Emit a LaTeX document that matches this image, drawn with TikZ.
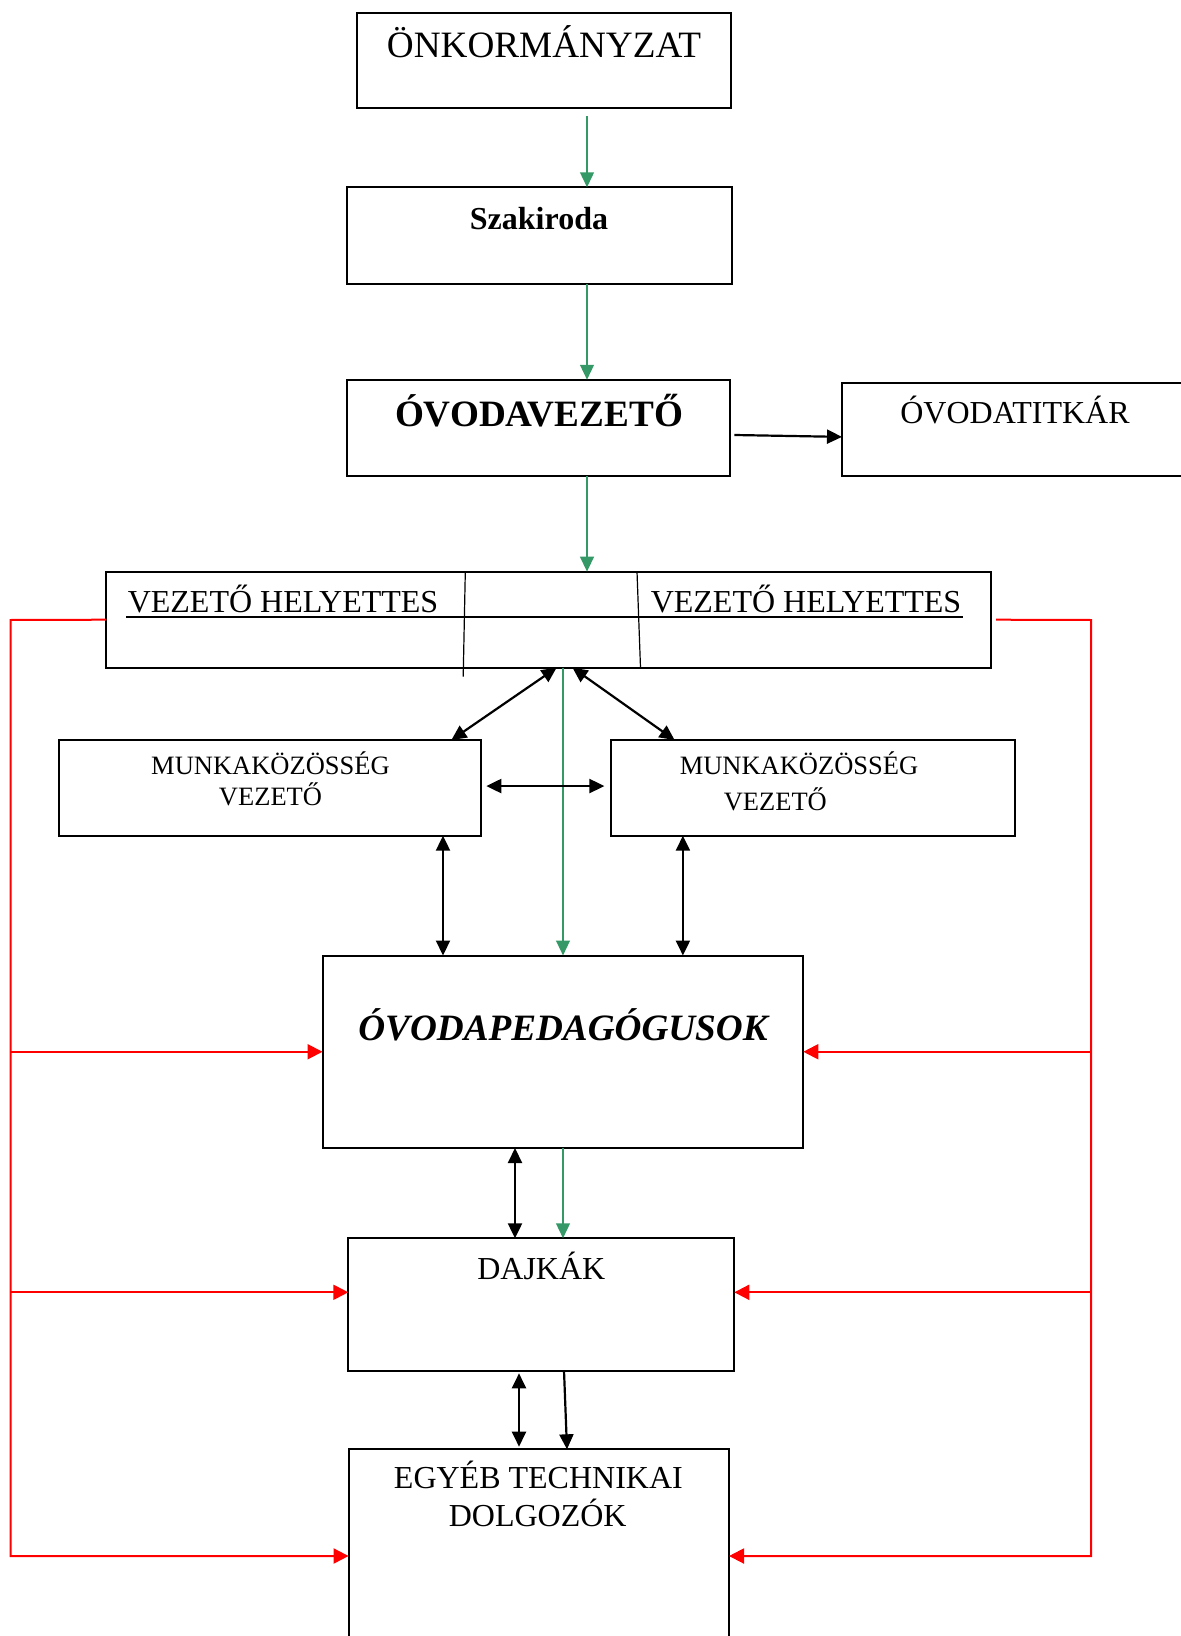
\documentclass[tikz,border=0pt]{standalone}
\usepackage{fontspec}
\setmainfont{Liberation Serif}
\usetikzlibrary{arrows.meta,calc}
\definecolor{grn}{RGB}{52,153,102}
\tikzset{
  box/.style={draw=black,line width=1pt,rectangle,inner sep=0pt,outer sep=0pt},
  txt/.style={anchor=base,inner sep=0pt,outer sep=0pt},
  big/.style={font=\fontsize{18.6}{22}\selectfont},
  mid/.style={font=\fontsize{16}{19}\selectfont},
  small/.style={font=\fontsize{13.25}{16}\selectfont},
  garrow/.style={draw=grn,line width=1.2pt,-{Triangle[length=7.5pt,width=6.8pt]}},
  barrow/.style={draw=black,line width=1.1pt,-{Triangle[length=7.5pt,width=7pt]}},
  bdouble/.style={draw=black,line width=1.1pt,{Triangle[length=7.5pt,width=7pt]}-{Triangle[length=7.5pt,width=7pt]}},
  rarrow/.style={draw=red,line width=1pt,-{Triangle[length=7.5pt,width=7.5pt]}},
  thin/.style={draw=black,line width=0.6pt}
}
\begin{document}
\begin{tikzpicture}[x=0.5pt,y=-0.5pt]
\useasboundingbox (0,0) rectangle (1181,1636);
\clip (0,0) rectangle (1181,1636);
% boxes
\node[box,minimum width=187pt,minimum height=47.8pt] (onk) at (544,60.5) {};
\node[box,minimum width=192.35pt,minimum height=48.35pt] (szak) at (539.3,235.7) {};
\node[box,minimum width=191.5pt,minimum height=48pt] (vez) at (538.9,427.8) {};
\node[box,minimum width=179pt,minimum height=46.35pt] (titk) at (1021,429.7) {};
\node[box,minimum width=442.2pt,minimum height=48pt] (vh) at (548.6,619.7) {};
\node[box,minimum width=211.1pt,minimum height=47.85pt] (mka) at (270.2,787.85) {};
\node[box,minimum width=201.85pt,minimum height=47.85pt] (mkb) at (812.65,787.85) {};
\node[box,minimum width=240.4pt,minimum height=96.25pt] (ped) at (562.9,1051.75) {};
\node[box,minimum width=193pt,minimum height=66.2pt] (dajk) at (541.3,1304.5) {};
\node[box,minimum width=190.2pt,minimum height=106.7pt] (egy) at (538.8,1556) {};
% texts
\node[txt,big] (tonk) at (544,57.3) {ÖNKORMÁNYZAT};
\node[txt,font=\fontsize{16}{19}\selectfont\bfseries] (tszak) at (539,230) {Szakiroda};
\node[txt,font=\fontsize{18.6}{22}\selectfont\bfseries] (tvez) at (539,427) {ÓVODAVEZETŐ};
\node[txt,mid] (ttitk) at (1015,423) {ÓVODATITKÁR};
\node[txt,mid] (tvha) at (283,612.3) {VEZETŐ HELYETTES};
\node[txt,mid] (tvhb) at (806,612.3) {VEZETŐ HELYETTES};
\node[txt,small] (tmka1) at (270.5,774.3) {MUNKAKÖZÖSSÉG};
\node[txt,small] (tmka2) at (270.5,805.3) {VEZETŐ};
\node[txt,small] (tmkb1) at (799,774.3) {MUNKAKÖZÖSSÉG};
\node[txt,small] (tmkb2) at (775.3,810) {VEZETŐ};
\node[txt,font=\fontsize{18.6}{22}\selectfont\bfseries\itshape] (tped) at (563,1040) {ÓVODAPEDAGÓGUSOK};
\node[txt,mid] (tdajk) at (541.3,1279.3) {DAJKÁK};
\node[txt,mid] (tegy1) at (538.4,1488.3) {EGYÉB TECHNIKAI};
\node[txt,mid] (tegy2) at (537.7,1526.7) {DOLGOZÓK};
% inner lines of the deputy box
\draw[thin,line width=0.8pt] (126.4,616.7) -- (963.2,616.7);
\draw[thin] (465.3,571.7) -- (463.2,676.7);
\draw[thin] (637,571.7) -- (640.5,667.7);
% column coordinates
\coordinate (ga) at (587,0);
\coordinate (gb) at (563,0);
\coordinate (ca) at (556.6,0);
\coordinate (cb) at (451.4,0);
\coordinate (cc) at (572.5,0);
\coordinate (cd) at (674.6,0);
\coordinate (ce) at (443,0);
\coordinate (cf) at (682.9,0);
\coordinate (cg) at (515,0);
\coordinate (ch) at (519,0);
\coordinate (ci) at (564,0);
\coordinate (cj) at (567,0);
\coordinate (rl) at (10.5,620);
\coordinate (rr) at (1091,620);
% green arrows
\draw[garrow,shorten <=3.8pt] (onk.south -| ga) -- (szak.north -| ga);
\draw[garrow] (szak.south -| ga) -- (vez.north -| ga);
\draw[garrow] (vez.south -| ga) -- (vh.north -| ga);
\draw[garrow] (vh.south -| gb) -- (ped.north -| gb);
\draw[garrow] (ped.south -| gb) -- (dajk.north -| gb);
% black arrows
\draw[barrow] ([xshift=2pt,yshift=-3.6pt]vez.east) -- ([yshift=-3.6pt]titk.west);
\draw[bdouble] (vh.south -| ca) -- (mka.north -| cb);
\draw[bdouble] (vh.south -| cc) -- (mkb.north -| cd);
\draw[bdouble] ([xshift=2.5pt,yshift=0.9pt]mka.east) -- ([xshift=-3.2pt,yshift=0.9pt]mkb.west);
\draw[bdouble] (mka.south -| ce) -- (ped.north -| ce);
\draw[bdouble] (mkb.south -| cf) -- (ped.north -| cf);
\draw[bdouble] (ped.south -| cg) -- (dajk.north -| cg);
\draw[bdouble,shorten <=1.3pt,shorten >=1.3pt] (dajk.south -| ch) -- (egy.north -| ch);
\draw[barrow] (dajk.south -| ci) -- (egy.north -| cj);
% red feedback lines
\draw[rarrow] (vh.west) -- (rl) -- (rl |- egy.west) -- (egy.west);
\draw[rarrow] (rl |- ped.west) -- (ped.west);
\draw[rarrow] ([yshift=6.1pt]rl |- dajk.west) -- ([yshift=6.1pt]dajk.west);
\draw[rarrow] ([xshift=2.6pt]vh.east) -- (rr) -- (rr |- egy.east) -- (egy.east);
\draw[rarrow] (rr |- ped.east) -- (ped.east);
\draw[rarrow] ([yshift=6.1pt]rr |- dajk.east) -- ([yshift=6.1pt]dajk.east);
\end{tikzpicture}
\end{document}
